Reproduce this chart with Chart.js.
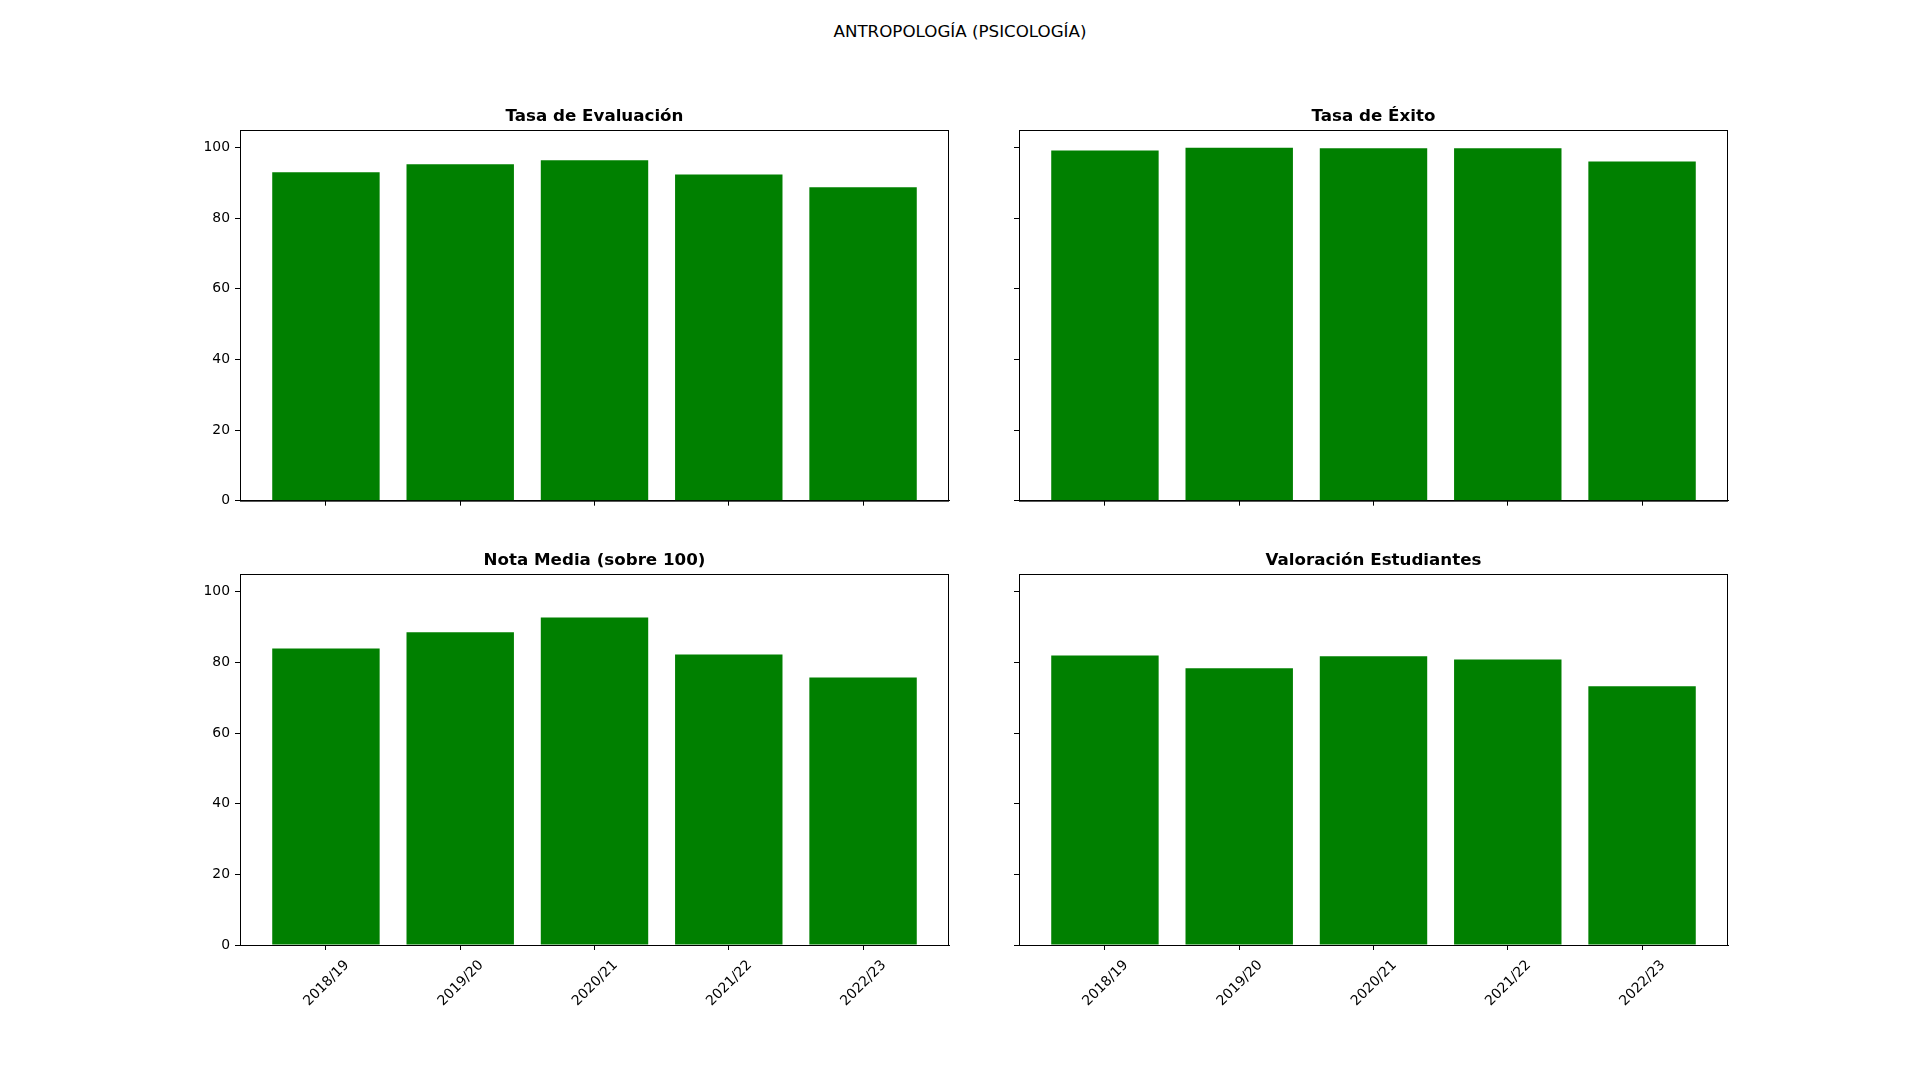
<!DOCTYPE html>
<html>
<head>
<meta charset="utf-8">
<script src="https://cdn.jsdelivr.net/npm/chart.js@4/dist/chart.umd.min.js"></script>
<style>
  body { margin: 0; width: 1920px; height: 1080px; background: #fff; position: relative; overflow: hidden; }
  canvas { position: absolute; }
  #suptitle {
    position: absolute; left: 0; width: 1920px; top: 21px; text-align: center;
    font-family: "DejaVu Sans", sans-serif; font-size: 16.7px; color: #000; line-height: 20px;
  }
</style>
</head>
<body>
<div id="suptitle">ANTROPOLOGÍA (PSICOLOGÍA)</div>
<canvas id="c1" width="789" height="419" style="left:170px;top:95px"></canvas>
<canvas id="c2" width="789" height="419" style="left:949px;top:95px"></canvas>
<canvas id="c3" width="789" height="486" style="left:170px;top:539px"></canvas>
<canvas id="c4" width="789" height="486" style="left:949px;top:539px"></canvas>
<script>
const categories = ["2018/19", "2019/20", "2020/21", "2021/22", "2022/23"];
const tasaEvaluacion = [93.0, 95.3, 96.4, 92.4, 88.8];
const tasaExito = [99.2, 100.0, 99.8, 99.8, 96.1];
const notaMedia = [83.9, 88.5, 92.7, 82.2, 75.7];
const valoracionEstudiantes = [81.9, 78.3, 81.7, 80.8, 73.2];
const yTicks = [0, 20, 40, 60, 80, 100];

const font = "'DejaVu Sans', sans-serif";

// matplotlib-style box round the plot area
const framePlugin = {
  id: "frame",
  afterDraw(chart) {
    const { ctx, chartArea } = chart;
    ctx.save();
    ctx.strokeStyle = "#000";
    ctx.lineWidth = 1;
    ctx.strokeRect(chartArea.left + 0.5, chartArea.top + 0.5, chartArea.width - 1, chartArea.height);
    ctx.restore();
  },
};

function makePanel(id, title, values, showYLabels, showXLabels) {
  new Chart(document.getElementById(id), {
    type: "bar",
    data: {
      datasets: [{
        data: values.map((v, i) => ({ x: i, y: v })),
        backgroundColor: "#008000",
        borderWidth: 0,
        barPercentage: 0.8,
        categoryPercentage: 1.0,
      }],
    },
    plugins: [framePlugin],
    options: {
      responsive: false,
      animation: false,
      events: [],
      layout: { padding: { left: 0, right: 10, top: 0, bottom: 0 } },
      plugins: {
        legend: { display: false },
        tooltip: { enabled: false },
        title: {
          display: true,
          fullSize: false,
          text: title,
          color: "#000",
          font: { family: font, size: 16.7, weight: "bold", lineHeight: 1.2 },
          padding: { top: 11.6, bottom: 3.36 },
        },
      },
      scales: {
        x: {
          type: "linear",
          min: -0.64,
          max: 4.64,
          offset: false,
          afterBuildTicks: (scale) => { scale.ticks = categories.map((c, i) => ({ value: i })); },
          afterFit: (scale) => { scale.height = showXLabels ? 80 : 10; },
          grid: { display: true, offset: false, drawOnChartArea: false, drawTicks: true, tickLength: 5, color: "#000", lineWidth: 1 },
          border: { display: true, color: "#000", width: 1 },
          ticks: {
            display: showXLabels,
            includeBounds: false,
            autoSkip: false,
            minRotation: 45,
            maxRotation: 45,
            padding: 7,
            labelOffset: 21,
            color: "#000",
            font: { family: font, size: 13.9 },
            callback: (value) => categories[value],
          },
        },
        y: {
          min: 0,
          max: 105,
          afterBuildTicks: (scale) => { scale.ticks = yTicks.map((v) => ({ value: v })); },
          afterFit: (scale) => { scale.width = 70; },
          grid: { display: true, drawOnChartArea: false, drawTicks: true, tickLength: 5, color: "#000", lineWidth: 1 },
          border: { display: true, color: "#000", width: 1 },
          ticks: {
            display: true,
            includeBounds: false,
            padding: 5,
            color: "#000",
            font: { family: font, size: 13.9 },
            callback: (value) => (showYLabels ? String(value) : ""),
          },
        },
      },
    },
  });
}

makePanel("c1", "Tasa de Evaluación", tasaEvaluacion, true, false);
makePanel("c2", "Tasa de Éxito", tasaExito, false, false);
makePanel("c3", "Nota Media (sobre 100)", notaMedia, true, true);
makePanel("c4", "Valoración Estudiantes", valoracionEstudiantes, false, true);
</script>
</body>
</html>
